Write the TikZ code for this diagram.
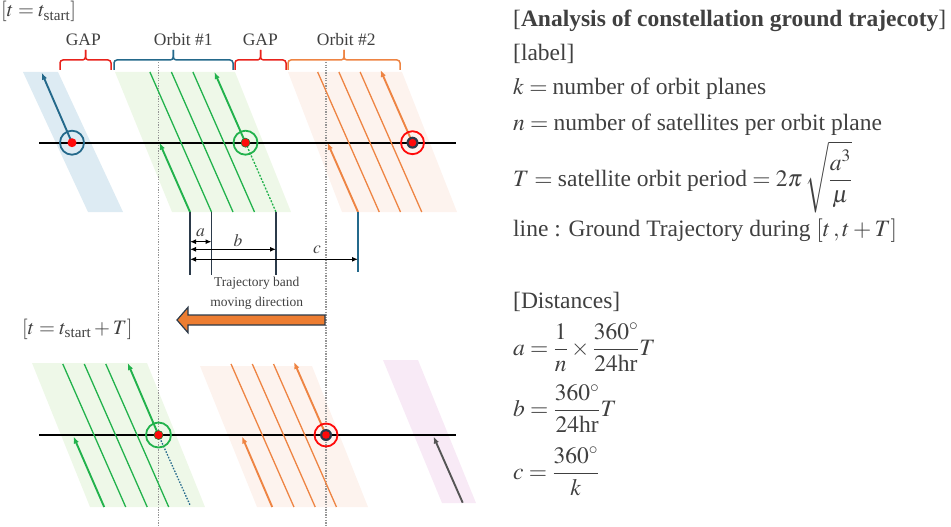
\documentclass[tikz,border=0pt]{standalone}
\usepackage{amsmath}
\usepackage{mathptmx}
\usepackage{fontspec}
\setmainfont{Liberation Serif}
\usetikzlibrary{arrows.meta}

\definecolor{bandblue}{HTML}{DDEBF3}
\definecolor{bandgreen}{HTML}{EEF8E8}
\definecolor{bandorange}{HTML}{FDF3EE}
\definecolor{bandpurple}{HTML}{F8EAF6}
\definecolor{trackblue}{HTML}{24698B}
\definecolor{trackgreen}{HTML}{22B24C}
\definecolor{trackorange}{HTML}{EE8443}
\definecolor{trackgray}{HTML}{555555}
\definecolor{gapred}{HTML}{E8221B}
\definecolor{satred}{HTML}{FF0A0A}
\definecolor{satdark}{HTML}{2B3A4A}
\definecolor{dotgray}{HTML}{959595}
\definecolor{txtgray}{HTML}{404040}
\definecolor{arrowfill}{HTML}{ED7D31}

% brace over a band: left end, tip, right end, colour
\newcommand{\bandbrace}[4]{%
  \draw[#4,line width=1.5pt,rounded corners=3pt] (#1,70) -- (#1,60) -- (#2,60) -- (#2,50);
  \draw[#4,line width=1.5pt,rounded corners=3pt] (#3,70) -- (#3,60) -- (#2,60) -- (#2,50);}

\begin{document}
\begin{tikzpicture}[x=1pt,y=-1pt,>={Latex[length=7pt,width=5.5pt]},
    track/.style={line width=1.3pt},
    pass/.style={line width=1.9pt,->},
    satring/.style={circle,draw=#1,line width=1.8pt,minimum size=24pt,inner sep=0pt},
    gridline/.style={draw=dotgray,line width=1.4pt,dash pattern=on 1.3pt off 1.3pt},
    tick/.style={draw=satdark,line width=1.3pt},
    gap/.style={<->,>={Latex[length=6pt,width=5pt]},line width=1.3pt},
    lbl/.style={text=txtgray,font=\fontsize{17.5}{20}\selectfont,inner sep=0pt,anchor=base},
    info/.style={text=txtgray,font=\fontsize{23.5}{28}\selectfont,inner sep=0pt,anchor=base west}]
  \useasboundingbox (0,0) rectangle (951,527);

  % bands at t = t_start
  \fill[bandblue] (23,72) -- (58,72) -- (123,212) -- (88,212) -- cycle;
  \fill[bandgreen] (115,72) -- (235,72) -- (291,212) -- (172,212) -- cycle;
  \fill[bandorange] (288,72) -- (402,72) -- (457,212) -- (342,212) -- cycle;
  % bands at t = t_start + T
  \fill[bandgreen] (32,363) -- (147,363) -- (205,507) -- (90,507) -- cycle;
  \fill[bandorange] (200,366) -- (312,366) -- (368,507) -- (257,507) -- cycle;
  \fill[bandpurple] (383,360) -- (418,360) -- (476,503) -- (442,503) -- cycle;

  % reference lines
  \draw[gridline] (158.5,62) -- (158.5,527);
  \draw[gridline] (326,62) -- (326,527);

  % equators
  \draw[line width=1.6pt] (39,142.7) -- (456,142.7);
  \draw[line width=1.6pt] (39,435) -- (456,435);

  % satellites
  \coordinate (s1) at (72,142.7);
  \coordinate (s2) at (245.5,142.7);
  \coordinate (s3) at (412.5,142.7);
  \coordinate (s4) at (158.5,435);
  \coordinate (s5) at (326,435);

  % ground tracks at t = t_start
  \foreach \xc in {181,202.5,224}
    \draw[track,trackgreen] ({\xc-31.1},72) -- ({\xc+30.5},212);
  \foreach \xc in {348.75,370,391.25}
    \draw[track,trackorange] ({\xc-31.1},72) -- ({\xc+30.5},212);
  \draw[pass,trackgreen] (190,212) -- (159.5,142.7);
  \draw[pass,trackorange] (358,212) -- (327.5,142.7);
  \draw[pass,trackblue] (s1) -- (41.7,72.7);
  \draw[pass,trackgreen] (s2) -- (214.4,72);
  \draw[pass,trackorange] (s3) -- (380.5,70);
  \draw[track,trackgreen,dash pattern=on 2pt off 1.5pt] (s2) -- (276,212);

  % ground tracks at t = t_start + T
  \foreach \xc in {94,115.5,137}
    \draw[track,trackgreen] ({\xc-31.2},364) -- ({\xc+31.7},507);
  \foreach \xc in {262.25,283.5,304.75}
    \draw[track,trackorange] ({\xc-31.2},364) -- ({\xc+31.7},507);
  \draw[pass,trackgreen] (104.2,507) -- (73.5,436.5);
  \draw[pass,trackorange] (272.2,507) -- (242,436.5);
  \draw[pass,trackgreen] (s4) -- (127.7,363);
  \draw[pass,trackorange] (s5) -- (294,362);
  \draw[pass,trackgray] (462.7,502.7) -- (433.5,436.5);
  \draw[track,trackblue,dash pattern=on 1.5pt off 1.5pt] (s4) -- (190,505);

  % satellite markers
  \node[satring=trackblue] at (s1) {};
  \fill[satred] (s1) circle[radius=4.5pt];
  \node[satring=trackgreen] at (s2) {};
  \filldraw[fill=satred,draw=trackgreen!70!black,line width=0.6pt] (s2) circle[radius=4.5pt];
  \node[satring=satred,minimum size=23pt] at (s3) {};
  \fill[satdark] (s3) circle[radius=6pt];
  \fill[satred] (s3) circle[radius=3.8pt];
  \node[satring=trackgreen,minimum size=25pt] at (s4) {};
  \filldraw[fill=satred,draw=trackgreen!70!black,line width=0.6pt] (s4) circle[radius=4.5pt];
  \node[satring=satred,minimum size=23pt] at (s5) {};
  \fill[satdark] (s5) circle[radius=6pt];
  \fill[satred] (s5) circle[radius=3.8pt];

  % braces
  \bandbrace{60}{85.5}{111}{gapred}
  \bandbrace{114}{173.3}{233}{trackblue}
  \bandbrace{235}{260.5}{286}{gapred}
  \bandbrace{288}{344}{400}{trackorange}
  \node[lbl] (gap1) at (83.3,46) {GAP};
  \node[lbl] (orb1) at (183.3,46) {Orbit \#1};
  \node[lbl] (gap2) at (260.3,46) {GAP};
  \node[lbl] (orb2) at (346.3,46) {Orbit \#2};

  % distances
  \draw[tick] (190,212) -- (190,275);
  \draw[tick] (211.5,212) -- (211.5,275);
  \draw[tick] (276,212) -- (276,275);
  \draw[tick,draw=trackblue] (358,212) -- (358,272);
  \draw[gap] (190,241.7) -- (211.5,241.7);
  \draw[gap] (190,249.3) -- (276,249.3);
  \draw[gap] (190,259.3) -- (358,259.3);
  \node[lbl,anchor=center] (la) at (200.5,232.7) {$a$};
  \node[lbl,anchor=center] (lb) at (238,240.5) {$b$};
  \node[lbl,anchor=center] (lc) at (317,250) {$c$};

  % moving direction
  \node[lbl,anchor=center,align=center,font=\fontsize{13.5}{19.7}\selectfont] (mv) at (256.7,293) {Trajectory band\\moving direction};
  \filldraw[fill=arrowfill,draw=satdark,line width=1.2pt]
    (325,315) -- (188,315) -- (188,307.3) -- (177,320) -- (188,332.7) -- (188,325) -- (325,325) -- cycle;

  % time stamps
  \node[info,font=\fontsize{20.5}{24}\selectfont] (t0) at (1,17) {$[t = t_{\text{start}}]$};
  \node[info,font=\fontsize{20.5}{24}\selectfont] (t1) at (22,334.7) {$[t = t_{\text{start}} + T]$};

  % legend
  \node[info] (title) at (513,26.7) {[\textbf{Analysis of constellation ground trajecoty}]};
  \node[info] (lab) at (513,61) {[label]};
  \node[info] (kdef) at (513,95) {$k = \text{number of orbit planes}$};
  \node[info] (ndef) at (513,130) {$n = \text{number of satellites per orbit plane}$};
  \node[info] (tdef) at (513,186) {$T = \text{satellite orbit period} = 2\pi\,\sqrt{\dfrac{a^3}{\mu}}$};
  \node[info] (ldef) at (513,236.7) {line : Ground Trajectory during $[t\,, t + T]$};
  \node[info] (dist) at (513,308.3) {[Distances]};
  \node[info] (adef) at (513,355) {$a = \dfrac{1}{n}\times\dfrac{360^\circ}{24\text{hr}}T$};
  \node[info] (bdef) at (513,416.7) {$b = \dfrac{360^\circ}{24\text{hr}}T$};
  \node[info] (cdef) at (513,479) {$c = \dfrac{360^\circ}{k}$};
\end{tikzpicture}
\end{document}
